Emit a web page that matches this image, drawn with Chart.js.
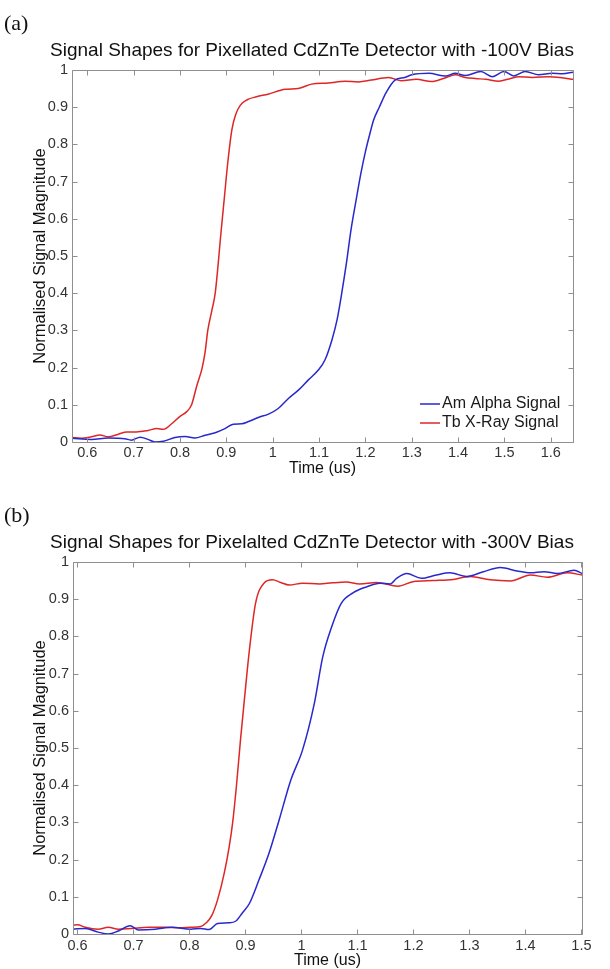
<!DOCTYPE html>
<html><head><meta charset="utf-8">
<script src="https://cdn.jsdelivr.net/npm/chart.js@4.4.1/dist/chart.umd.min.js"></script>
<style>
html,body{margin:0;padding:0;background:#fff;}
body{width:610px;height:969px;position:relative;overflow:hidden;font-family:"Liberation Sans",Arial,sans-serif;}
canvas{position:absolute;left:0;}
.panel{position:absolute;left:4px;font-family:"Liberation Serif","Times New Roman",serif;font-size:22px;color:#111;line-height:1;z-index:2;}
.title{position:absolute;left:0;width:624px;text-align:center;font-size:19px;color:#111;line-height:1;white-space:nowrap;z-index:2;}
</style></head>
<body>
<canvas id="chartA" width="610" height="480" style="top:0px;width:610px;height:480px"></canvas>
<canvas id="chartB" width="610" height="489" style="top:480px;width:610px;height:489px"></canvas>
<div class="panel" style="top:12px">(a)</div>
<div class="title" style="top:40px">Signal Shapes for Pixellated CdZnTe Detector with -100V Bias</div>
<div class="panel" style="top:504px">(b)</div>
<div class="title" style="top:532px">Signal Shapes for Pixelalted CdZnTe Detector with -300V Bias</div>
<script>
// ---------- DATA ----------
const xTicksA = [0.6,0.7,0.8,0.9,1.0,1.1,1.2,1.3,1.4,1.5,1.6];
const xTickLabelsA = ['0.6','0.7','0.8','0.9','1','1.1','1.2','1.3','1.4','1.5','1.6'];
const xTicksB = [0.6,0.7,0.8,0.9,1.0,1.1,1.2,1.3,1.4,1.5];
const xTickLabelsB = ['0.6','0.7','0.8','0.9','1','1.1','1.2','1.3','1.4','1.5'];
const yTicks = [0,0.1,0.2,0.3,0.4,0.5,0.6,0.7,0.8,0.9,1];
const yTickLabels = ['0','0.1','0.2','0.3','0.4','0.5','0.6','0.7','0.8','0.9','1'];

const seriesNamesA = ['Am Alpha Signal','Tb X-Ray Signal'];
const seriesNamesB = ['Am Alpha Signal','Tb X-ray Signal'];

// (a) -100V bias
const timeAlphaA = [0.567,0.609,0.645,0.681,0.695,0.714,0.731,0.746,0.764,0.789,0.811,0.832,0.854,0.876,0.897,0.915,0.933,0.948,0.969,0.991,1.012,1.034,1.056,1.077,1.099,1.113,1.128,1.139,1.149,1.159,1.169,1.180,1.190,1.200,1.210,1.218,1.230,1.245,1.264,1.285,1.300,1.337,1.373,1.394,1.416,1.449,1.474,1.499,1.520,1.545,1.574,1.603,1.625,1.648];
const alphaA = [0.010,0.007,0.011,0.009,0.005,0.013,0.007,0.000,0.002,0.012,0.015,0.011,0.018,0.025,0.036,0.048,0.049,0.055,0.066,0.075,0.090,0.117,0.140,0.167,0.194,0.221,0.275,0.329,0.400,0.480,0.570,0.650,0.720,0.780,0.830,0.866,0.900,0.940,0.973,0.980,0.987,0.991,0.984,0.991,0.985,0.996,0.982,0.996,0.984,0.996,0.987,0.991,0.990,0.994];
const timeXrayA = [0.567,0.587,0.609,0.627,0.645,0.667,0.685,0.706,0.731,0.750,0.764,0.782,0.800,0.814,0.825,0.836,0.848,0.854,0.860,0.869,0.876,0.889,0.896,0.903,0.912,0.920,0.930,0.945,0.965,0.990,1.027,1.055,1.084,1.120,1.156,1.185,1.213,1.250,1.278,1.310,1.343,1.370,1.394,1.415,1.437,1.460,1.488,1.510,1.531,1.560,1.596,1.620,1.648];
const xrayA = [0.012,0.010,0.014,0.019,0.014,0.021,0.027,0.027,0.031,0.036,0.034,0.049,0.069,0.081,0.100,0.150,0.200,0.240,0.300,0.355,0.400,0.570,0.660,0.750,0.840,0.880,0.905,0.920,0.928,0.935,0.948,0.950,0.962,0.965,0.970,0.968,0.973,0.980,0.971,0.975,0.969,0.978,0.987,0.980,0.977,0.975,0.970,0.976,0.982,0.980,0.982,0.980,0.975];

// (b) -300V bias
const timeAlphaB = [0.592,0.614,0.637,0.655,0.673,0.694,0.709,0.739,0.769,0.802,0.820,0.835,0.850,0.870,0.883,0.895,0.907,0.924,0.942,0.960,0.981,1.002,1.023,1.038,1.054,1.071,1.092,1.116,1.140,1.158,1.170,1.188,1.214,1.241,1.265,1.295,1.325,1.355,1.385,1.409,1.433,1.457,1.487,1.501];
const alphaB = [0.013,0.015,0.005,0.000,0.008,0.022,0.011,0.013,0.018,0.013,0.015,0.012,0.028,0.030,0.035,0.058,0.082,0.145,0.217,0.306,0.414,0.495,0.620,0.745,0.826,0.889,0.917,0.933,0.943,0.941,0.956,0.969,0.956,0.965,0.971,0.961,0.974,0.985,0.976,0.971,0.974,0.969,0.978,0.969];
const timeXrayB = [0.592,0.600,0.614,0.637,0.655,0.673,0.697,0.727,0.757,0.781,0.802,0.820,0.830,0.840,0.850,0.862,0.871,0.877,0.884,0.891,0.898,0.907,0.918,0.933,0.948,0.963,0.978,1.002,1.032,1.055,1.080,1.104,1.134,1.172,1.199,1.235,1.271,1.301,1.337,1.373,1.409,1.439,1.475,1.501];
const xrayB = [0.024,0.025,0.018,0.013,0.018,0.013,0.015,0.018,0.018,0.017,0.018,0.020,0.030,0.050,0.091,0.163,0.235,0.298,0.400,0.520,0.629,0.763,0.889,0.943,0.952,0.945,0.938,0.943,0.941,0.944,0.946,0.941,0.945,0.935,0.947,0.950,0.953,0.961,0.952,0.949,0.965,0.959,0.971,0.965];

// ---------- STYLE ----------
const BLUE = 'rgb(40,40,205)';
const RED = 'rgb(222,38,38)';
const FONT = '"Liberation Sans", Arial, sans-serif';

const framePlugin = {
  id: 'matlabFrame',
  afterDatasetsDraw(chart, args, o) {
    const {ctx, chartArea: a, scales: {x, y}} = chart;
    ctx.save();
    ctx.strokeStyle = '#8f8f8f';
    ctx.lineWidth = 1;
    const L = Math.round(a.left) + 0.5, R = Math.round(a.right) + 0.5;
    const T = Math.round(a.top) + 0.5, B = Math.round(a.bottom) + 0.5;
    ctx.beginPath();
    ctx.rect(L, T, R - L, B - T);
    const tl = 5;
    x.ticks.forEach(t => {
      const px = Math.round(x.getPixelForValue(t.value)) + 0.5;
      ctx.moveTo(px, B); ctx.lineTo(px, B - tl);
      ctx.moveTo(px, T); ctx.lineTo(px, T + tl);
    });
    y.ticks.forEach(t => {
      const py = Math.round(y.getPixelForValue(t.value)) + 0.5;
      ctx.moveTo(L, py); ctx.lineTo(L + tl, py);
      ctx.moveTo(R, py); ctx.lineTo(R - tl, py);
    });
    ctx.stroke();
    // legend
    ctx.font = '16px ' + FONT;
    ctx.textBaseline = 'middle';
    ctx.textAlign = 'left';
    chart.data.datasets.forEach((ds, i) => {
      const yy = o.ly + i * o.rowH;
      ctx.strokeStyle = ds.borderColor;
      ctx.lineWidth = 1.5;
      ctx.beginPath();
      ctx.moveTo(o.lx, yy); ctx.lineTo(o.lx + o.len, yy);
      ctx.stroke();
      ctx.fillStyle = '#1a1a1a';
      ctx.fillText(ds.label, o.lx + o.len + 2, yy);
    });
    ctx.restore();
  }
};

function pts(xs, ys) { return xs.map((v, i) => ({x: v, y: ys[i]})); }

function makeChart(id, cfg) {
  return new Chart(document.getElementById(id), {
    type: 'line',
    data: {
      datasets: [
        {label: cfg.names[0], data: pts(cfg.tA, cfg.vA), borderColor: BLUE, borderWidth: 1.5, pointRadius: 0, cubicInterpolationMode: 'monotone', fill: false},
        {label: cfg.names[1], data: pts(cfg.tX, cfg.vX), borderColor: RED, borderWidth: 1.5, pointRadius: 0, cubicInterpolationMode: 'monotone', fill: false}
      ]
    },
    options: {
      responsive: false,
      animation: false,
      devicePixelRatio: 1,
      layout: {padding: {top: cfg.top, right: cfg.right, bottom: 0, left: 0}},
      plugins: {
        legend: {display: false},
        tooltip: {enabled: false},
        title: {display: false},
        matlabFrame: cfg.legend
      },
      scales: {
        x: {
          type: 'linear', position: 'bottom', min: cfg.xmin, max: cfg.xmax,
          grid: {display: false, drawTicks: false},
          border: {display: false},
          afterBuildTicks: s => { s.ticks = cfg.xTicks.map(v => ({value: v})); },
          afterFit: s => { s.height = cfg.xh; },
          ticks: {
            autoSkip: false, maxRotation: 0, padding: cfg.xpad, color: '#333',
            font: {family: FONT, size: 14.5, lineHeight: 1.2},
            callback: (v) => { const i = cfg.xTicks.findIndex(t => Math.abs(t - v) < 1e-9); return i >= 0 ? cfg.xLabels[i] : ''; }
          },
          title: {display: true, text: 'Time (us)', color: '#111', font: {family: FONT, size: 16, lineHeight: 1}, padding: {top: 0, bottom: cfg.xtpad}}
        },
        y: {
          type: 'linear', position: 'left', min: 0, max: 1,
          grid: {display: false, drawTicks: false},
          border: {display: false},
          afterBuildTicks: s => { s.ticks = yTicks.map(v => ({value: v})); },
          afterFit: s => { s.width = cfg.left; },
          ticks: {
            autoSkip: false, padding: 4, color: '#333',
            font: {family: FONT, size: 14.5, lineHeight: 1.2},
            callback: (v) => { const i = yTicks.findIndex(t => Math.abs(t - v) < 1e-9); return i >= 0 ? yTickLabels[i] : ''; }
          },
          title: {display: true, text: 'Normalised Signal Magnitude', color: '#111', font: {family: FONT, size: 16.5, lineHeight: 1}, padding: {top: 32, bottom: 0}}
        }
      }
    },
    plugins: [framePlugin]
  });
}

makeChart('chartA', {
  names: seriesNamesA, tA: timeAlphaA, vA: alphaA, tX: timeXrayA, vX: xrayA,
  xTicks: xTicksA, xLabels: xTickLabelsA, xmin: 0.567, xmax: 1.648,
  top: 70, right: 610 - 573, left: 72, xh: 38, xpad: 2.5, xtpad: 3,
  legend: {lx: 420, ly: 404, rowH: 19, len: 20}
});

makeChart('chartB', {
  names: seriesNamesB, tA: timeAlphaB, vA: alphaB, tX: timeXrayB, vX: xrayB,
  xTicks: xTicksB, xLabels: xTickLabelsB, xmin: 0.592, xmax: 1.501,
  top: 82, right: 610 - 582, left: 73, xh: 35, xpad: 3, xtpad: 0,
  legend: {lx: 431, ly: 894, rowH: 19, len: 20}
});
</script>
</body></html>
